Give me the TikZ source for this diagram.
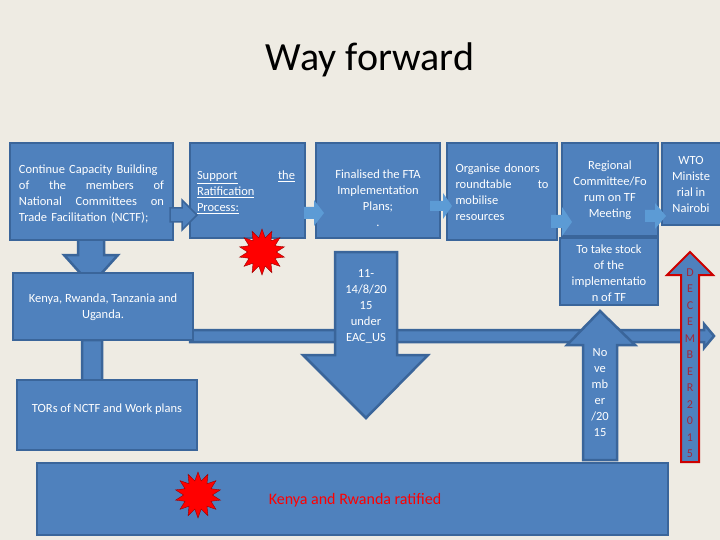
\documentclass[tikz,border=0pt]{standalone}
\usepackage{fontspec}
\setmainfont{Carlito}
\usetikzlibrary{shapes.geometric}
\hyphenpenalty=10000
\definecolor{bg}{HTML}{EEEBE3}
\definecolor{bfill}{HTML}{4F81BD}
\definecolor{bedge}{HTML}{3A659A}
\definecolor{lightar}{HTML}{5C9BD5}
\definecolor{maroon}{HTML}{A0283C}
\tikzset{
  bx/.style={draw=bedge,line width=2.5pt,fill=bfill},
  tx/.style={text=white,font=\fontsize{12.5}{16}\selectfont,align=center,inner sep=0pt},
  la/.style={fill=lightar,draw=none},
  burst/.style={star,star points=14,star point ratio=1.6,fill=red,draw=red!60!black,minimum size=46pt,inner sep=0pt}
}
\begin{document}
\begin{tikzpicture}[x=1pt,y=-1pt]
\fill[bg] (0,0) rectangle (720,540);
\useasboundingbox (0,0) rectangle (720,540);
\node (title) at (370,60) {\fontsize{40}{46}\selectfont Way forward};
% bottom box
\draw[bx] (37,463) rectangle (668,535);
% horizontal bar with arrow
\draw[bx] (190,330) -- (704,330) -- (704,324) -- (714,336) -- (704,348) -- (704,342) -- (190,342) -- cycle;
% down arrows on left
\draw[bx] (78,238) -- (104,238) -- (104,255) -- (118,255) -- (91,285) -- (64,255) -- (78,255) -- cycle;
\draw[bx] (82,340) -- (102,340) -- (102,388) -- (112,388) -- (92,405) -- (72,388) -- (82,388) -- cycle;
% boxes
\draw[bx] (10,143) rectangle (173,240); \node[tx,text width=145pt,align=left] (b1) at (91.5,194) {Continue Capacity Building\\of\hfill the\hfill members\hfill of\\National\hfill Committees\hfill on\\Trade Facilitation (NCTF);};
\draw[bx] (13,273) rectangle (193,340); \node[tx] (ken) at (103,307) {Kenya, Rwanda, Tanzania and\\Uganda.};
\draw[bx] (17,380) rectangle (197,450); \node[tx] (tor) at (107,409) {TORs of NCTF and Work plans};
\draw[bx] (190,143) rectangle (305,238); \node[tx,text width=98pt,align=left] (b2) at (246,192) {\underline{Support}\hfill\underline{the}\\\underline{Ratification}\\\underline{Process:}};
\draw[bx] (316,143) rectangle (440,238); \node[tx] (b3) at (378,198) {Finalised the FTA\\Implementation\\Plans;\\.};
\draw[bx] (447,143) rectangle (557,240); \node[tx,text width=93pt,align=left] (b4) at (502,192) {Organise donors\\roundtable\hfill to\\mobilise\\resources};
\draw[bx] (562,143) rectangle (658,236); \node[tx] (b5) at (610,190) {Regional\\Committee/Fo\\rum on TF\\Meeting};
\draw[bx] (662,143) rectangle (722,225); \node[tx] (b6) at (691,184) {WTO\\Ministe\\rial in\\Nairobi};
\draw[bx] (560,238) rectangle (658,305); \node[tx] (stock) at (609,273) {To take stock\\of the\\implementatio\\n of TF};
% small arrows
\draw[bx,line width=1.5pt] (170,208) -- (182,208) -- (182,200) -- (197,215) -- (182,230) -- (182,222) -- (170,222) -- cycle;
\fill[la] (304,207) -- (314,207) -- (314,200) -- (324,213) -- (314,226) -- (314,219) -- (304,219) -- cycle;
\fill[la] (430,201) -- (443,201) -- (443,193) -- (452,206) -- (443,219) -- (443,211) -- (430,211) -- cycle;
\fill[la] (551,215) -- (562,215) -- (562,207) -- (572,222) -- (562,236) -- (562,228) -- (551,228) -- cycle;
\fill[la] (645,210) -- (655,210) -- (655,203) -- (666,216) -- (655,229) -- (655,222) -- (645,222) -- cycle;
% big down arrow
\draw[bx] (335,252) -- (397,252) -- (397,355) -- (428,355) -- (366,418) -- (303,355) -- (335,355) -- cycle;
\node[tx] (aug) at (366,306) {11-\\14/8/20\\15\\under\\EAC\_US};
% november arrow
\draw[bx] (583,460) -- (583,345) -- (567,345) -- (600,311) -- (635,345) -- (617,345) -- (617,460) -- cycle;
\node[tx] (nov) at (600,393) {No\\ve\\mb\\er\\/20\\15};
% december arrow
\draw[draw=red!80!black,line width=2pt,fill=bfill] (681,462) -- (681,275) -- (667,275) -- (690,252) -- (713,275) -- (699,275) -- (699,462) -- cycle;
\node[text=maroon,font=\fontsize{12}{16.5}\selectfont,align=center,inner sep=0pt] (dec) at (690,363) {D\\E\\C\\E\\M\\B\\E\\R\\2\\0\\1\\5};
% bursts
\node[burst] (s1) at (262,252) {};
\node[burst] (s2) at (198,495) {};
\node[text=red,font=\fontsize{16}{19}\selectfont] (rat) at (355,500) {Kenya and Rwanda ratified};
\end{tikzpicture}
\end{document}
